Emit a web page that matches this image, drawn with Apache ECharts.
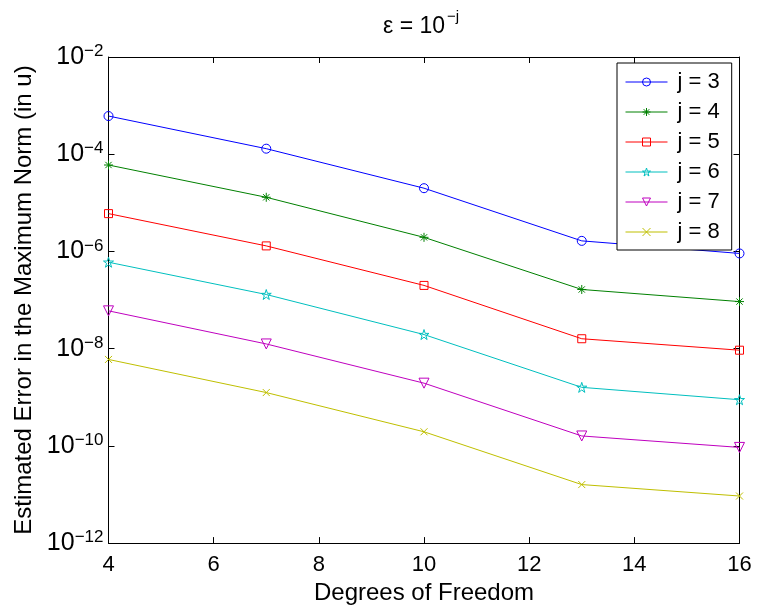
<!DOCTYPE html>
<html>
<head>
<meta charset="utf-8">
<script src="https://cdn.jsdelivr.net/npm/echarts@6/dist/echarts.min.js"></script>
<style>
  html, body { margin: 0; padding: 0; background: #fff; }
  #chart { width: 757px; height: 610px; }
</style>
</head>
<body>
<div id="chart"></div>
<script>
// Degrees of freedom sampled
const dof = [4, 7, 10, 13, 16];

// Estimated error (maximum norm) for each perturbation level eps = 10^-j
const errJ3 = [6.1e-4, 1.3e-4, 2.0e-5, 1.65e-6, 9.1e-7];
const errJ4 = [6.0e-5, 1.3e-5, 1.95e-6, 1.65e-7, 9.3e-8];
const errJ5 = [6.0e-6, 1.3e-6, 2.0e-7, 1.6e-8, 9.3e-9];
const errJ6 = [6.0e-7, 1.3e-7, 1.95e-8, 1.6e-9, 8.9e-10];
const errJ7 = [6.0e-8, 1.25e-8, 1.95e-9, 1.6e-10, 9.3e-11];
const errJ8 = [6.0e-9, 1.25e-9, 1.95e-10, 1.6e-11, 9.3e-12];

const seriesNames = ['j = 3', 'j = 4', 'j = 5', 'j = 6', 'j = 7', 'j = 8'];
const seriesValues = [errJ3, errJ4, errJ5, errJ6, errJ7, errJ8];

// x tick labels and y decade range
const xTicks = [4, 6, 8, 10, 12, 14, 16];
const yMin = 1e-12, yMax = 1e-2;

const colors = ['#0000ff', '#008000', '#ff0000', '#00bfbf', '#bf00bf', '#bfbf00'];
const markers = [
  'circle',
  'path://M5,0 L5,10 M0,5 L10,5 M1.5,1.5 L8.5,8.5 M8.5,1.5 L1.5,8.5',
  'rect',
  'path://M100,0 L122.45,69.1 L195.1,69.1 L136.3,111.8 L158.8,180.9 L100,138.2 L41.2,180.9 L63.7,111.8 L4.9,69.1 L77.55,69.1 Z',
  'path://M0,0 L10,0 L5,10 Z',
  'path://M0,0 L10,10 M10,0 L0,10'
];
const markerSizes = [9, 9, 8, 10, 10, 7];

const FONT = 'Liberation Sans, Arial, Helvetica, sans-serif';

const chart = echarts.init(document.getElementById('chart'), null, { renderer: 'canvas' });

// Label only even decades: 10^-12, 10^-10, ..., 10^-2
function powLabel(v) {
  const e = Math.round(Math.log10(v));
  if (e % 2 !== 0) return '';
  return '{b|10}{e|' + (e < 0 ? '\u2212' + (-e) : e) + '}';
}

const axisLineStyle = { lineStyle: { color: '#000', width: 1 } };
const tickStyle = { inside: true, length: 6, lineStyle: { color: '#000', width: 1 } };

const hollow = (c) => ({ color: 'rgba(0,0,0,0)', borderColor: c, borderWidth: 1 });

const option = {
  backgroundColor: '#fff',
  animation: false,
  textStyle: { fontFamily: FONT },
  // Title "ε = 10^-j": base text plus a raised exponent
  title: [
    {
      text: '\u03b5 = 10',
      left: 383,
      top: 15,
      padding: 0,
      textStyle: { fontFamily: FONT, fontSize: 23, fontWeight: 'normal', color: '#000' }
    },
    {
      text: '\u2212j',
      left: 447,
      top: 9,
      padding: 0,
      textStyle: { fontFamily: FONT, fontSize: 15, fontWeight: 'normal', color: '#000' }
    }
  ],
  grid: { left: 108.5, right: 17.5, top: 57, bottom: 63, containLabel: false },
  legend: {
    orient: 'vertical',
    left: 617,
    top: 63,
    padding: [8, 12, 7, 8],
    itemGap: 8,
    itemWidth: 42,
    itemHeight: 10,
    backgroundColor: '#fff',
    borderColor: '#000',
    borderWidth: 1,
    textStyle: { fontFamily: FONT, fontSize: 22, color: '#000', padding: [0, 0, 0, 5] },
    data: seriesNames.map((name, k) => ({
      name: name,
      itemStyle: hollow(colors[k]),
      lineStyle: { color: colors[k], width: 1 }
    }))
  },
  xAxis: [
    {
      type: 'value',
      min: xTicks[0],
      max: xTicks[xTicks.length - 1],
      interval: 2,
      name: 'Degrees of Freedom',
      nameLocation: 'middle',
      nameGap: 31,
      nameTextStyle: { fontFamily: FONT, fontSize: 24, color: '#000' },
      axisLine: axisLineStyle,
      axisTick: tickStyle,
      axisLabel: { fontFamily: FONT, fontSize: 22, color: '#000', margin: 11 },
      splitLine: { show: false }
    },
    {
      type: 'value',
      position: 'top',
      min: xTicks[0],
      max: xTicks[xTicks.length - 1],
      interval: 2,
      axisLine: axisLineStyle,
      axisTick: tickStyle,
      axisLabel: { show: false },
      splitLine: { show: false }
    }
  ],
  yAxis: [
    {
      type: 'log',
      logBase: 10,
      min: yMin,
      max: yMax,
      interval: 2,
      name: 'Estimated Error in the Maximum Norm (in u)',
      nameLocation: 'middle',
      nameGap: 62,
      nameTextStyle: { fontFamily: FONT, fontSize: 24, color: '#000' },
      axisLine: axisLineStyle,
      axisTick: tickStyle,
      minorTick: { show: false },
      axisLabel: {
        margin: 5,
        formatter: powLabel,
        rich: {
          b: { fontFamily: FONT, fontSize: 25, color: '#000', lineHeight: 28 },
          e: { fontFamily: FONT, fontSize: 17, color: '#000', verticalAlign: 'top', lineHeight: 28 }
        }
      },
      splitLine: { show: false }
    },
    {
      type: 'log',
      logBase: 10,
      position: 'right',
      min: yMin,
      max: yMax,
      interval: 2,
      axisLine: axisLineStyle,
      axisTick: tickStyle,
      axisLabel: { show: false },
      splitLine: { show: false }
    }
  ],
  series: seriesNames.map((name, k) => ({
    name: name,
    type: 'line',
    xAxisIndex: 0,
    yAxisIndex: 0,
    clip: false,
    symbol: markers[k],
    symbolSize: markerSizes[k],
    showAllSymbol: true,
    lineStyle: { color: colors[k], width: 1 },
    itemStyle: hollow(colors[k]),
    emphasis: { disabled: true },
    data: dof.map((x, i) => [x, seriesValues[k][i]])
  }))
};

chart.setOption(option);
</script>
</body>
</html>
